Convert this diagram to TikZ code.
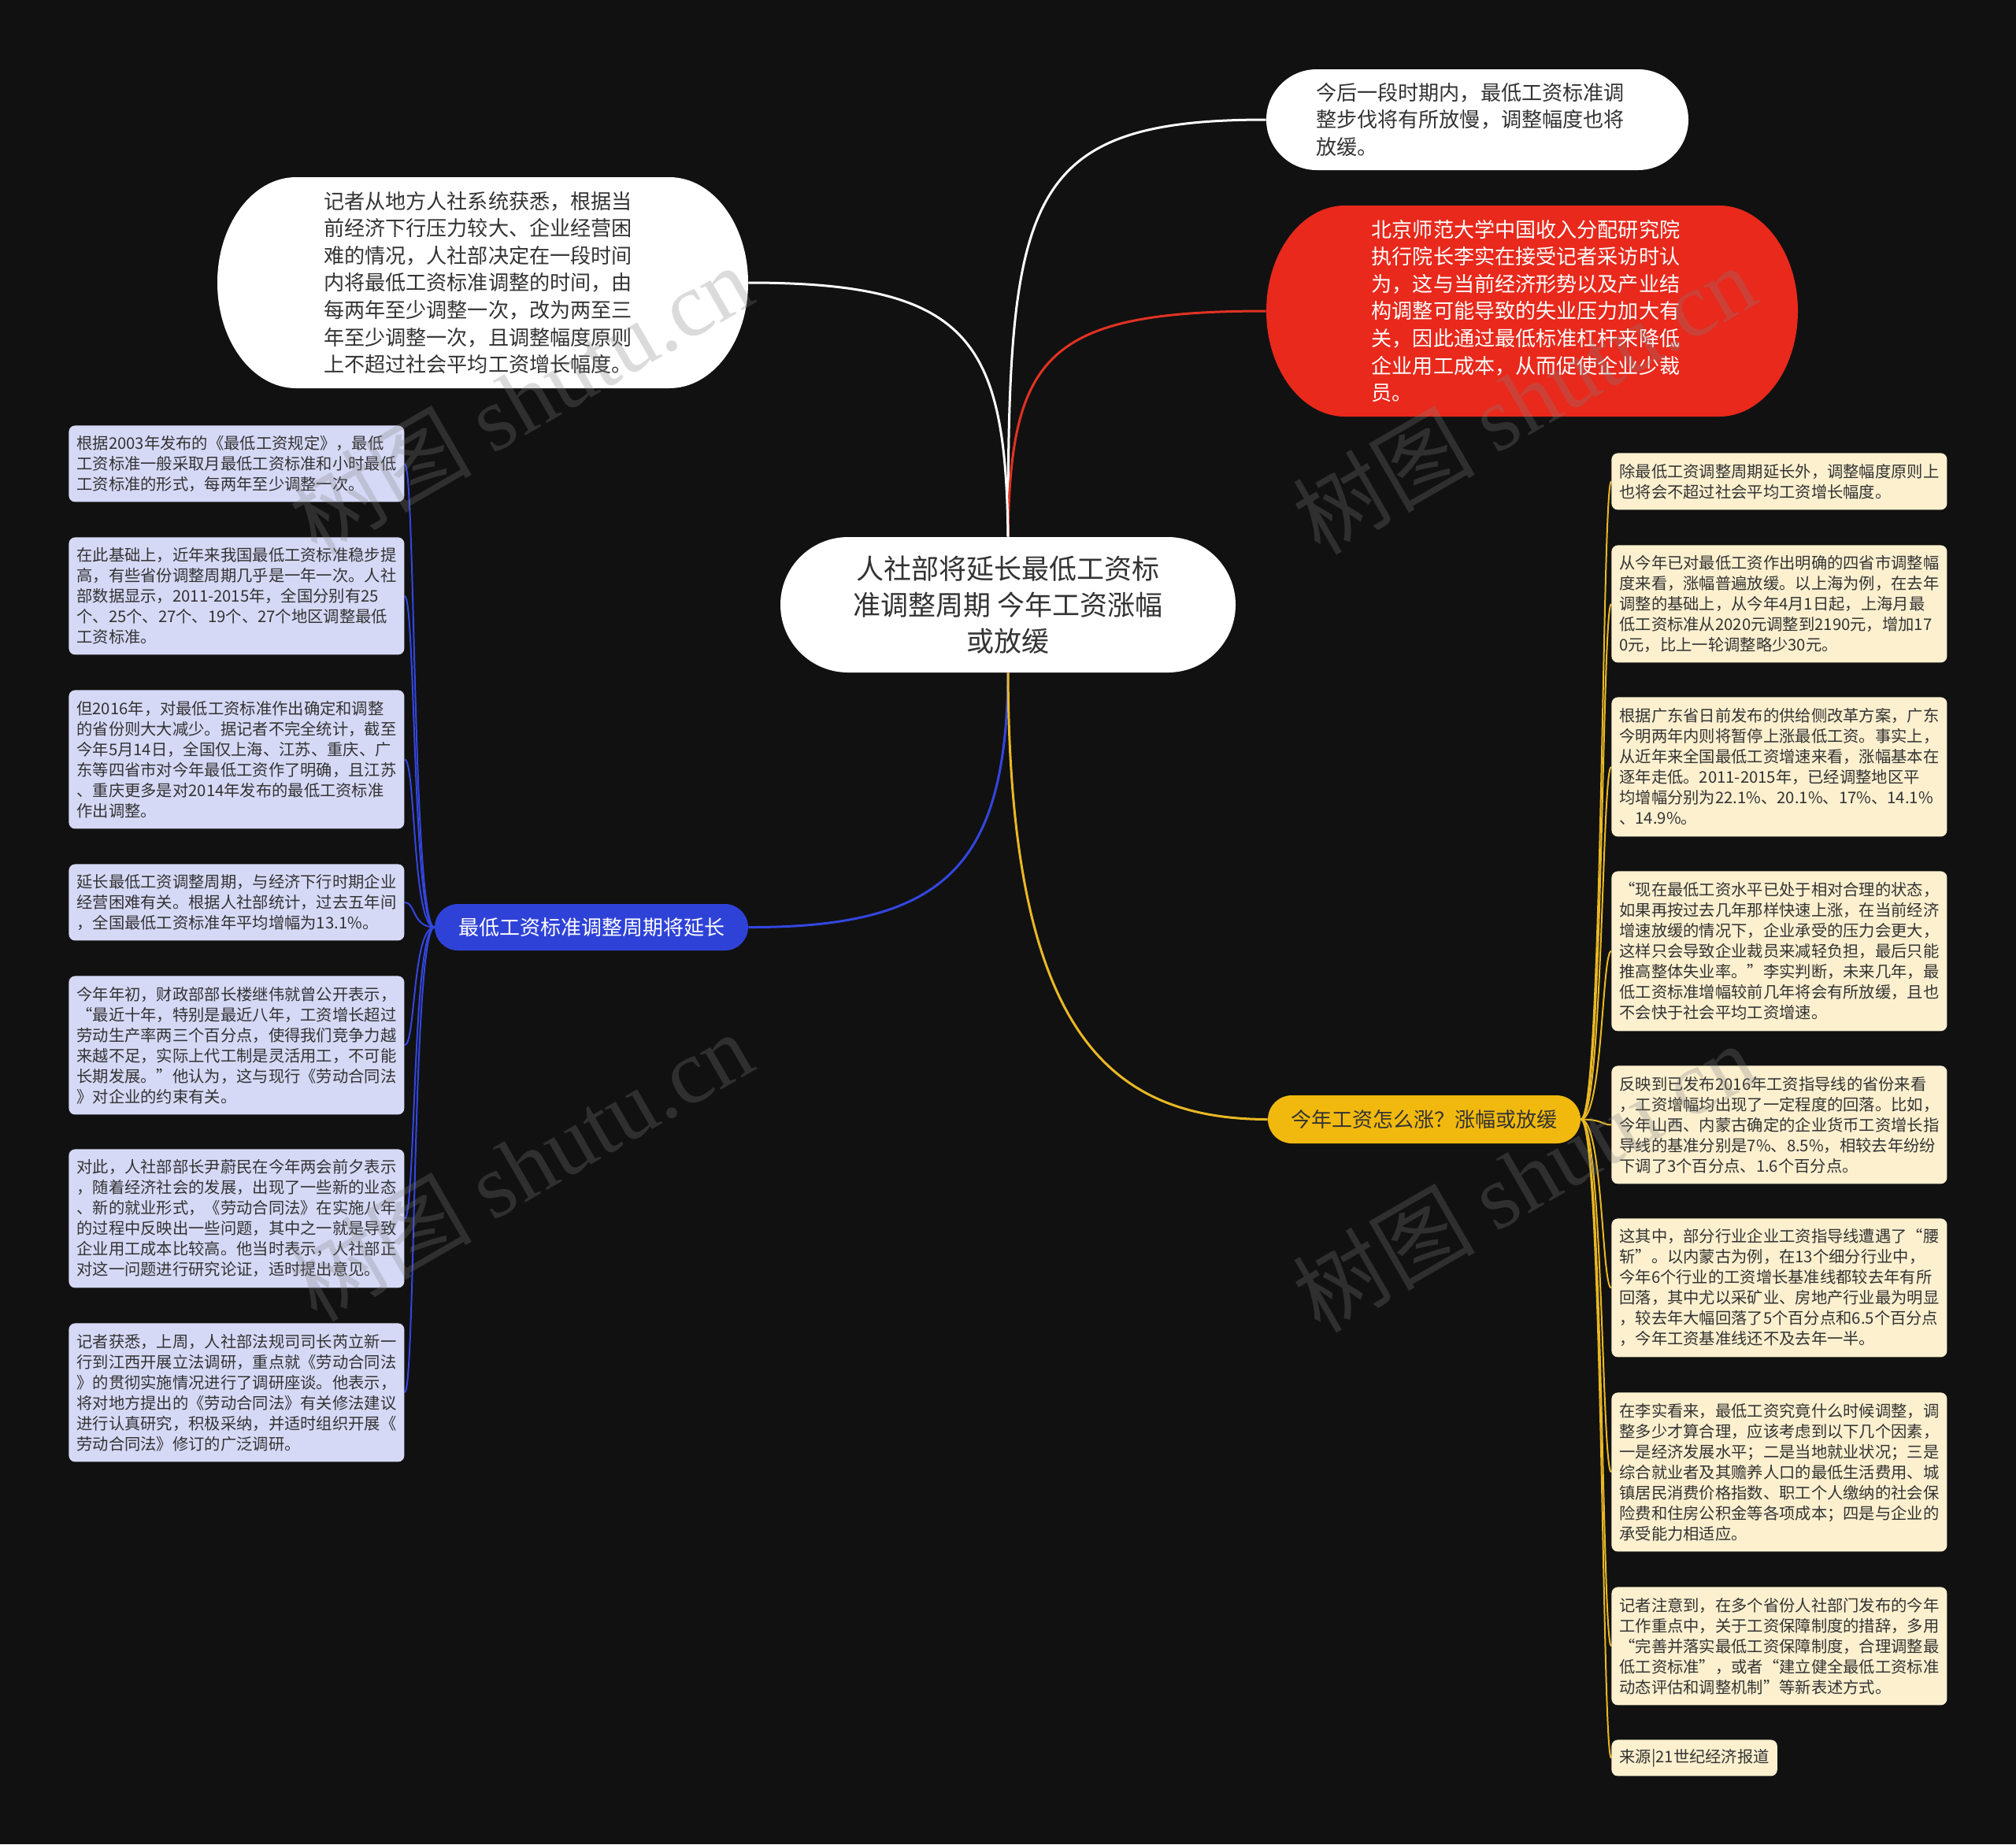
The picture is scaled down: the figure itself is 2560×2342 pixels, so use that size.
\documentclass[tikz,border=0pt]{standalone}
\usepackage{fontspec}
\setmainfont{Noto Sans CJK SC}
\newfontfamily\cjk{Noto Sans CJK SC}
\newfontfamily\wmserif{Liberation Serif}
\definecolor{bgc}{HTML}{111111}
\definecolor{txtc}{HTML}{333333}
\definecolor{redc}{HTML}{E8291C}
\definecolor{bluec}{HTML}{2F42D8}
\definecolor{yelc}{HTML}{F1B90E}
\definecolor{lavc}{HTML}{D6D9F6}
\definecolor{crmc}{HTML}{FCF0CF}
\definecolor{bluel}{HTML}{3346E0}
\definecolor{yell}{HTML}{E9B824}
\definecolor{redl}{HTML}{E23222}
\pgfdeclarelayer{bglayer}
\pgfdeclarelayer{linelayer}
\pgfdeclarelayer{shapelayer}
\pgfsetlayers{bglayer,linelayer,shapelayer,main}
% pill with half-elliptic ends: color, x0, y0, x1, y1, rx
\newcommand\pillshape[6]{\fill[#1] ({#2+#6},#3) -- ({#4-#6},#3) arc[start angle=270,end angle=450,x radius=#6,y radius={(#5-#3)/2}] -- ({#2+#6},#5) arc[start angle=90,end angle=270,x radius=#6,y radius={(#5-#3)/2}] -- cycle;}
\tikzset{
  leaf/.style={anchor=north west, inner xsep=5pt, inner ysep=0pt, text width=203pt, align=left, rounded corners=4pt, text=txtc, font=\cjk\fontsize{10.15}{13}\selectfont},
  lleaf/.style={leaf, fill=lavc},
  rleaf/.style={leaf, fill=crmc},
  bigtxt/.style={inner sep=0pt, align=left, font=\cjk\fontsize{13.05}{17.3}\selectfont},
  midtxt/.style={inner sep=0pt, align=center, font=\cjk\fontsize{13}{16}\selectfont},
  lconn/.style={bluel, line width=1pt},
  rconn/.style={yell, line width=1pt},
  mconn/.style={line width=1.5pt},
  wmark/.style={rotate=30, text=gray, text opacity=0.28, inner sep=0pt, font=\fontsize{58}{60}\selectfont}
}
\begin{document}
\begin{tikzpicture}[x=0.5pt,y=-0.5pt]
\useasboundingbox (0,0) rectangle (2560,2342);
\begin{pgfonlayer}{bglayer}
\fill[bgc] (0,0) rectangle (2560,2342);
\end{pgfonlayer}

% ---- main topics (text; shapes on shapelayer) ----
\node[inner sep=0pt, align=center, text=txtc, minimum width=289pt, minimum height=86pt, font=\cjk\fontsize{17.5}{22.9}\selectfont] (ctr) at (1280,768) {人社部将延长最低工资标\\准调整周期 今年工资涨幅\\或放缓};
\node[bigtxt, text=txtc, minimum width=268pt, minimum height=64pt] (tr) at (1876,152) {\hspace*{-9pt}今后一段时期内，最低工资标准调\\\hspace*{-9pt}整步伐将有所放慢，调整幅度也将\\\hspace*{-9pt}放缓。};
\node[bigtxt, text=white, minimum width=337.5pt, minimum height=134pt] (red) at (1945.5,395) {\hspace*{-8pt}北京师范大学中国收入分配研究院\\\hspace*{-8pt}执行院长李实在接受记者采访时认\\\hspace*{-8pt}为，这与当前经济形势以及产业结\\\hspace*{-8pt}构调整可能导致的失业压力加大有\\\hspace*{-8pt}关，因此通过最低标准杠杆来降低\\\hspace*{-8pt}企业用工成本，从而促使企业少裁\\\hspace*{-8pt}员。};
\node[bigtxt, text=txtc, minimum width=337pt, minimum height=134pt] (lt) at (613,359) {\hspace*{-6pt}记者从地方人社系统获悉，根据当\\\hspace*{-6pt}前经济下行压力较大、企业经营困\\\hspace*{-6pt}难的情况，人社部决定在一段时间\\\hspace*{-6pt}内将最低工资标准调整的时间，由\\\hspace*{-6pt}每两年至少调整一次，改为两至三\\\hspace*{-6pt}年至少调整一次，且调整幅度原则\\\hspace*{-6pt}上不超过社会平均工资增长幅度。};
\node[midtxt, text=white, minimum width=199pt, minimum height=29.5pt] (blue) at (751,1177.5) {最低工资标准调整周期将延长};
\node[midtxt, text=txtc, minimum width=198.5pt, minimum height=30.5pt] (yel) at (1808.5,1421.5) {今年工资怎么涨？涨幅或放缓};

\begin{pgfonlayer}{shapelayer}
\pillshape{white}{991}{682}{1569}{854}{86}
\pillshape{white}{1608}{88}{2144}{216}{64}
\pillshape{redc}{1608}{261}{2283}{529}{100}
\pillshape{white}{276}{225}{950}{493}{100}
\pillshape{bluec}{552}{1148}{950}{1207}{29.5}
\pillshape{yelc}{1610}{1391}{2007}{1452}{30.5}
\end{pgfonlayer}

% ---- left leaves ----
\node[lleaf, minimum height=48.5pt] (L1) at (87,540) {根据2003年发布的《最低工资规定》，最低\\工资标准一般采取月最低工资标准和小时最低\\工资标准的形式，每两年至少调整一次。};
\node[lleaf, minimum height=74.5pt] (L2) at (87,682) {在此基础上，近年来我国最低工资标准稳步提\\高，有些省份调整周期几乎是一年一次。人社\\部数据显示，2011-2015年，全国分别有25\\个、25个、27个、19个、27个地区调整最低\\工资标准。};
\node[lleaf, minimum height=88pt] (L3) at (87,876) {但2016年，对最低工资标准作出确定和调整\\的省份则大大减少。据记者不完全统计，截至\\今年5月14日，全国仅上海、江苏、重庆、广\\东等四省市对今年最低工资作了明确，且江苏\\、重庆更多是对2014年发布的最低工资标准\\作出调整。};
\node[lleaf, minimum height=48.5pt] (L4) at (87,1097) {延长最低工资调整周期，与经济下行时期企业\\经营困难有关。根据人社部统计，过去五年间\\，全国最低工资标准年平均增幅为13.1\%。};
\node[lleaf, minimum height=88pt] (L5) at (87,1239) {今年年初，财政部部长楼继伟就曾公开表示，\\“最近十年，特别是最近八年，工资增长超过\\劳动生产率两三个百分点，使得我们竞争力越\\来越不足，实际上代工制是灵活用工，不可能\\长期发展。”他认为，这与现行《劳动合同法\\》对企业的约束有关。};
\node[lleaf, minimum height=88pt] (L6) at (87,1459) {对此，人社部部长尹蔚民在今年两会前夕表示\\，随着经济社会的发展，出现了一些新的业态\\、新的就业形式，《劳动合同法》在实施八年\\的过程中反映出一些问题，其中之一就是导致\\企业用工成本比较高。他当时表示，人社部正\\对这一问题进行研究论证，适时提出意见。};
\node[lleaf, minimum height=88pt] (L7) at (87,1680) {记者获悉，上周，人社部法规司司长芮立新一\\行到江西开展立法调研，重点就《劳动合同法\\》的贯彻实施情况进行了调研座谈。他表示，\\将对地方提出的《劳动合同法》有关修法建议\\进行认真研究，积极采纳，并适时组织开展《\\劳动合同法》修订的广泛调研。};

% ---- right leaves ----
\node[rleaf, minimum height=36pt] (R1) at (2046,575) {除最低工资调整周期延长外，调整幅度原则上\\也将会不超过社会平均工资增长幅度。};
\node[rleaf, minimum height=74.5pt] (R2) at (2046,692) {从今年已对最低工资作出明确的四省市调整幅\\度来看，涨幅普遍放缓。以上海为例，在去年\\调整的基础上，从今年4月1日起，上海月最\\低工资标准从2020元调整到2190元，增加17\\0元，比上一轮调整略少30元。};
\node[rleaf, minimum height=88.5pt] (R3) at (2046,885) {根据广东省日前发布的供给侧改革方案，广东\\今明两年内则将暂停上涨最低工资。事实上，\\从近年来全国最低工资增速来看，涨幅基本在\\逐年走低。2011-2015年，已经调整地区平\\均增幅分别为22.1\%、20.1\%、17\%、14.1\%\\、14.9\%。};
\node[rleaf, minimum height=101.5pt] (R4) at (2046,1106) {“现在最低工资水平已处于相对合理的状态，\\如果再按过去几年那样快速上涨，在当前经济\\增速放缓的情况下，企业承受的压力会更大，\\这样只会导致企业裁员来减轻负担，最后只能\\推高整体失业率。”李实判断，未来几年，最\\低工资标准增幅较前几年将会有所放缓，且也\\不会快于社会平均工资增速。};
\node[rleaf, minimum height=75pt] (R5) at (2046,1353) {反映到已发布2016年工资指导线的省份来看\\，工资增幅均出现了一定程度的回落。比如，\\今年山西、内蒙古确定的企业货币工资增长指\\导线的基准分别是7\%、8.5\%，相较去年纷纷\\下调了3个百分点、1.6个百分点。};
\node[rleaf, minimum height=88pt] (R6) at (2046,1547) {这其中，部分行业企业工资指导线遭遇了“腰\\斩”。以内蒙古为例，在13个细分行业中，\\今年6个行业的工资增长基准线都较去年有所\\回落，其中尤以采矿业、房地产行业最为明显\\，较去年大幅回落了5个百分点和6.5个百分点\\，今年工资基准线还不及去年一半。};
\node[rleaf, minimum height=101pt] (R7) at (2046,1768) {在李实看来，最低工资究竟什么时候调整，调\\整多少才算合理，应该考虑到以下几个因素，\\一是经济发展水平；二是当地就业状况；三是\\综合就业者及其赡养人口的最低生活费用、城\\镇居民消费价格指数、职工个人缴纳的社会保\\险费和住房公积金等各项成本；四是与企业的\\承受能力相适应。};
\node[rleaf, minimum height=75pt] (R8) at (2046,2015) {记者注意到，在多个省份人社部门发布的今年\\工作重点中，关于工资保障制度的措辞，多用\\“完善并落实最低工资保障制度，合理调整最\\低工资标准”，或者“建立健全最低工资标准\\动态评估和调整机制”等新表述方式。};
\node[rleaf, text width=, minimum height=23pt] (R9) at (2046,2209) {来源|21世纪经济报道};

% ---- connectors ----
\begin{pgfonlayer}{linelayer}
\draw[mconn, white] (ctr.north) .. controls (1280,250) and (1300,152) .. (tr.west);
\draw[mconn, redl] (ctr.north) .. controls (1283,450) and (1330,395) .. (red.west);
\draw[mconn, white] (ctr.north) .. controls (1277,430) and (1230,359) .. (lt.east);
\draw[mconn, bluel] (ctr.south) .. controls (1278,1100) and (1200,1178) .. (blue.east);
\draw[mconn, yell] (ctr.south) .. controls (1282,1300) and (1400,1421) .. (yel.west);
\foreach \n in {L1,L2,L3,L4,L5,L6,L7}
  \draw[lconn] (blue.west) .. controls +(-28,0) and +(14,0) .. (\n.east);
\foreach \n in {R1,R2,R3,R4,R5,R6,R7,R8,R9}
  \draw[rconn] (yel.east) .. controls +(28,0) and +(-12,0) .. (\n.west);
\end{pgfonlayer}

% ---- watermarks ----
\node[wmark] (wm1) at (661,506) {树图 {\wmserif shutu.cn}};
\node[wmark] (wm2) at (661,1480) {树图 {\wmserif shutu.cn}};
\node[wmark] (wm3) at (1935,506) {树图 {\wmserif shutu.cn}};
\node[wmark] (wm4) at (1935,1494) {树图 {\wmserif shutu.cn}};
\end{tikzpicture}
\end{document}
